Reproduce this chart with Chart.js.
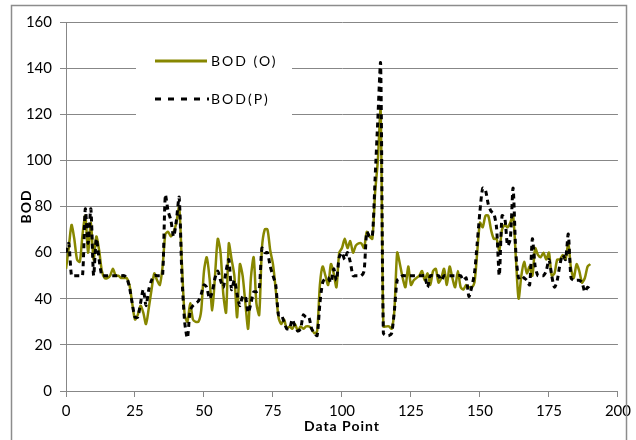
<!DOCTYPE html>
<html><head><meta charset="utf-8">
<script src="https://cdn.jsdelivr.net/npm/chart.js@4.4.1/dist/chart.umd.min.js"></script>
<style>html,body{margin:0;padding:0;background:#fff}</style>
</head><body>
<canvas id="c" width="636" height="440"></canvas>
<script>
const seriesNames = ['BOD (O)', 'BOD(P)'];
const xTitle = 'Data Point';
const yTitle = 'BOD';
const xTicks = [0, 25, 50, 75, 100, 125, 150, 175, 200];
const yTicks = [0, 20, 40, 60, 80, 100, 120, 140, 160];

const bodObserved = [
53,62,72,66,57,56,68,76,60,73,
57,67,61,52,49,49,50,53,50,50,
49,49,49,46,38,31,33,37,34,29,
36,44,51,48,46,54,68,69,67,69,
73,80,55,33,30,38,31,30,30,35,
52,58,49,35,50,66,60,42,34,64,
57,50,32,55,50,38,27,49,58,38,
33,62,70,70,61,55,44,32,29,31,
27,28,27,29,26,28,27,28,28,27,
25,26,46,54,50,46,55,51,45,60,
62,66,62,65,60,63,64,64,62,69,
67,66,86,100,122,28,28,28,27,35,
60,55,49,45,54,46,48,49,50,52,
48,51,46,52,53,47,49,53,46,54,
49,45,52,45,44,46,45,45,47,60,
73,71,76,76,70,66,66,61,70,72,
71,73,76,58,40,50,56,51,54,50,
62,59,58,60,57,60,50,51,57,57,
59,57,64,53,49,55,52,47,49,54,
55];

const bodPredicted = [
60,64,50,50,50,50,50,79,64,79,
50,66,57,50,50,50,50,50,50,50,
50,50,49,45,38,32,32,38,44,37,
44,48,50,50,50,50,85,78,74,67,
74,84,50,30,23,35,37,38,39,42,
46,45,40,43,49,52,48,45,52,57,
44,48,42,37,41,41,34,38,43,43,
44,62,60,60,54,50,46,33,33,30,
27,27,31,28,26,27,33,32,32,27,
25,24,38,47,49,49,47,53,48,58,
60,57,60,56,50,50,50,50,52,69,
67,67,92,118,142,25,24,24,25,35,
48,49,50,50,50,50,50,50,50,50,
50,45,50,50,50,50,48,50,50,50,
50,50,50,50,48,49,41,45,51,64,
78,88,87,81,78,77,71,50,76,75,
63,66,88,60,49,50,49,48,46,66,
54,50,50,50,52,57,50,45,48,55,
59,57,68,49,48,48,48,47,43,45,
44];

const toPoints = arr => arr.map((v, i) => ({x: i, y: v}));
const FONT = 'Lato, "Liberation Sans", Arial, sans-serif';
const GRID = '#878787';
const OLIVE = '#878700';

const decor = {
  id: 'decor',
  afterDraw(chart) {
    const ctx = chart.ctx;
    ctx.save();
    // outer frame
    ctx.strokeStyle = '#8c8c8c';
    ctx.lineWidth = 1.5;
    ctx.strokeRect(11.5, 5.5, 615, 440);
    // legend box
    ctx.fillStyle = '#fff';
    ctx.fillRect(136, 38, 156, 79);
    ctx.lineWidth = 3;
    ctx.strokeStyle = OLIVE;
    ctx.beginPath(); ctx.moveTo(155, 61); ctx.lineTo(207, 61); ctx.stroke();
    ctx.strokeStyle = '#000';
    ctx.setLineDash([6, 7]);
    ctx.beginPath(); ctx.moveTo(155, 99); ctx.lineTo(209, 99); ctx.stroke();
    ctx.setLineDash([]);
    ctx.fillStyle = '#000';
    ctx.font = '14px ' + FONT;
    ctx.textBaseline = 'middle';
    ctx.textAlign = 'left';
    ctx.letterSpacing = '2px';
    ctx.fillText(seriesNames[0], 211, 61);
    ctx.fillText(seriesNames[1], 211, 99);
    // axis titles
    ctx.font = 'bold 14px ' + FONT;
    ctx.letterSpacing = '1px';
    ctx.textAlign = 'center';
    const a = chart.chartArea;
    ctx.fillText(xTitle, (a.left + a.right) / 2, 426);
    ctx.translate(26, (a.top + a.bottom) / 2);
    ctx.rotate(-Math.PI / 2);
    ctx.fillText(yTitle, 0, 0);
    ctx.restore();
  }
};

new Chart(document.getElementById('c'), {
  type: 'line',
  data: {
    datasets: [
      {label: seriesNames[0], data: toPoints(bodObserved), borderColor: OLIVE, borderWidth: 2.5,
       pointRadius: 0, tension: 0.25, fill: false, order: 1},
      {label: seriesNames[1], data: toPoints(bodPredicted), borderColor: '#000', borderWidth: 3,
       borderDash: [5, 4], pointRadius: 0, tension: 0.25, fill: false, order: 0}
    ]
  },
  options: {
    responsive: false,
    animation: false,
    devicePixelRatio: 1,
    layout: {padding: {left: 0, right: 16, top: 22, bottom: 0}},
    plugins: {legend: {display: false}, tooltip: {enabled: false}},
    scales: {
      x: {
        type: 'linear', min: 0, max: 200,
        afterBuildTicks: s => { s.ticks = xTicks.map(v => ({value: v})); },
        afterFit: s => { s.height = 49; },
        grid: {drawOnChartArea: false, drawTicks: true, tickLength: 6, color: GRID},
        border: {color: GRID, width: 1},
        ticks: {font: {family: FONT, size: 15}, color: '#000', padding: 5, maxRotation: 0, autoSkip: false}
      },
      y: {
        min: 0, max: 160,
        afterBuildTicks: s => { s.ticks = yTicks.map(v => ({value: v})); },
        afterFit: s => { s.width = 66; },
        grid: {color: GRID, tickLength: 6},
        border: {color: GRID, width: 1},
        ticks: {font: {family: FONT, size: 15}, color: '#000', padding: 8}
      }
    }
  },
  plugins: [decor]
});
</script>
</body></html>
